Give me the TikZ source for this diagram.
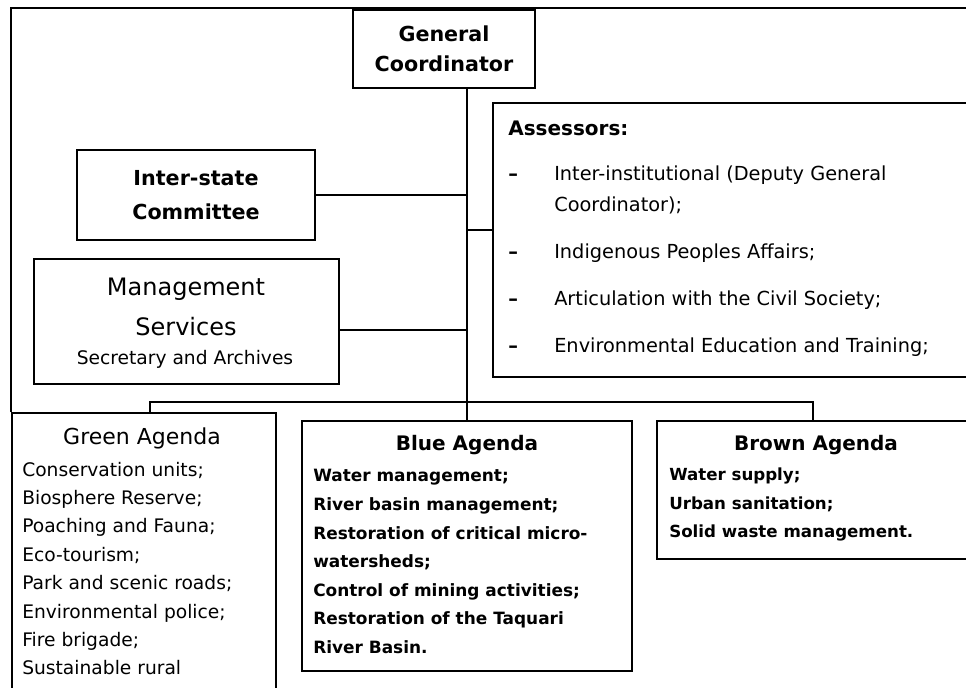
\documentclass[tikz,border=0pt]{standalone}
\usepackage{fontspec}
\setmainfont{DejaVu Sans}
\tikzset{unit/.style = {draw, line width = 1.4pt, inner sep = 0}}
\tikzset{link/.style = {line width = 1.1pt}}
\tikzset{list/.style = {anchor = west, align = left, inner sep = 0}}

\begin{document}
\begin{tikzpicture}[x=0.75pt, y=-0.75pt]
    \useasboundingbox (0,0) rectangle (966,687);
    \clip (0,0) rectangle (966,687);

    \node [unit, minimum width=136.5pt, minimum height=58.5pt, align=center,
      font={\bfseries\fontsize{15.5}{22.5}\selectfont}] (gc) at (444,49) {General\\Coordinator};
    \node [unit, minimum width=178.5pt, minimum height=67.5pt, align=center,
      font={\bfseries\fontsize{15.5}{26}\selectfont}] (inter) at (196,195) {Inter-state\\Committee};

    \node [unit, minimum width=228.75pt, minimum height=93.75pt] (mgmt) at (186.5,321.5) {};
    \node [align=center, font={\fontsize{18}{30}\selectfont}] (mgmtname) at (186,307) {Management\\Services};
    \node [font={\fontsize{14}{17}\selectfont}] (mgmtsub) at (185,359) {Secretary and Archives};

    \node [unit, minimum width=365.25pt, minimum height=205.5pt] (assess) at (736.5,240) {};
    \node [anchor=west, inner sep=0, font={\bfseries\fontsize{15}{18}\selectfont}] (asshead) at (508,128) {Assessors:};
    \node [list, font={\fontsize{14.5}{23.25}\selectfont}] (asslist) at (508,261)
      {\makebox[34.5pt][l]{\textbf{\textendash}}Inter-institutional (Deputy General\\
       \hspace*{34.5pt}Coordinator);\\[12pt]
       \makebox[34.5pt][l]{\textbf{\textendash}}Indigenous Peoples Affairs;\\[12pt]
       \makebox[34.5pt][l]{\textbf{\textendash}}Articulation with the Civil Society;\\[12pt]
       \makebox[34.5pt][l]{\textbf{\textendash}}Environmental Education and Training;};

    % agendas
    \node [unit, minimum width=198pt, minimum height=215.25pt] (green) at (144,556.5) {};
    \node [font={\fontsize{16.5}{20}\selectfont}] (greenhead) at (142,438) {Green Agenda};
    \node [list, font={\fontsize{14}{21.3}\selectfont}] (greenlist) at (22,568.5)
      {Conservation units;\\ Biosphere Reserve;\\ Poaching and Fauna;\\ Eco-tourism;\\
       Park and scenic roads;\\ Environmental police;\\ Fire brigade;\\ Sustainable rural};

    \node [unit, minimum width=247.5pt, minimum height=187.5pt] (blue) at (467,546) {};
    \node [font={\bfseries\fontsize{15}{18}\selectfont}] (bluehead) at (467,445) {Blue Agenda};
    \node [list, font={\bfseries\fontsize{12.7}{21.4}\selectfont}] (bluelist) at (313,561.5)
      {Water management;\\ River basin management;\\ Restoration of critical micro-\\
       watersheds;\\ Control of mining activities;\\ Restoration of the Taquari\\ River Basin.};

    \node [unit, minimum width=242.25pt, minimum height=103.5pt] (brown) at (818.5,490) {};
    \node [font={\bfseries\fontsize{15}{18}\selectfont}] (brownhead) at (816,445) {Brown Agenda};
    \node [list, font={\bfseries\fontsize{12.5}{21.4}\selectfont}] (brownlist) at (669,504.5)
      {Water supply;\\ Urban sanitation;\\ Solid waste management.};

    % connectors
    \coordinate (atap) at (467,230);
    \coordinate (mtap) at (467,330);
    \coordinate (busL) at (150,402);
    \coordinate (busR) at (813,402);
    \coordinate (frameTR) at (980,8);

    \draw [unit] (green.north west) |- (frameTR);
    \draw [link] (gc.south -| blue.north) -- (blue.north);
    \draw [link] (inter.east) -- (inter.east -| blue.north);
    \draw [link] (atap) -- (atap -| assess.west);
    \draw [link] (mtap) -- (mtap -| mgmt.east);
    \draw [link] (busL |- green.north) -- (busL) -- (busR) -- (busR |- brown.north);
\end{tikzpicture}
\end{document}
